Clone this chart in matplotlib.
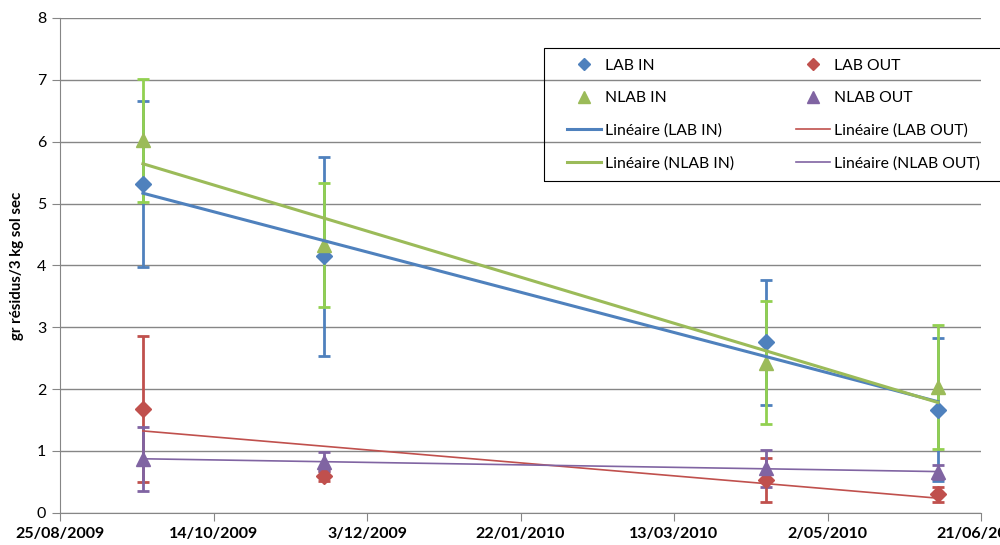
import numpy as np
import pandas as pd
import matplotlib
matplotlib.use('Agg')
import matplotlib.pyplot as plt
import matplotlib.dates as mdates
from matplotlib.patches import Rectangle

plt.rcParams['font.family'] = ['Lato', 'DejaVu Sans']

dates = pd.to_datetime(['2009-09-21', '2009-11-19', '2010-04-12', '2010-06-07'])

lab_in = [5.31, 4.15, 2.76, 1.67]
lab_in_err = [1.34, 1.61, 1.01, 1.15]
nlab_in = [6.02, 4.33, 2.43, 2.03]
nlab_in_err = [1.0, 1.0, 1.0, 1.0]
lab_out = [1.68, 0.60, 0.53, 0.30]
lab_out_err = [1.18, 0.08, 0.35, 0.12]
nlab_out = [0.87, 0.83, 0.72, 0.66]
nlab_out_err = [0.52, 0.15, 0.30, 0.12]

xtick_labels = ['25/08/2009', '14/10/2009', '3/12/2009', '22/01/2010',
                '13/03/2010', '2/05/2010', '21/06/2010']

fig = plt.figure(figsize=(10, 5.45), dpi=100)
ax = fig.add_axes([0.060, 0.059, 0.921, 0.908])

x = mdates.date2num(dates)

series = [
    ('LAB IN', lab_in, lab_in_err, '#4F81BD', '#4F81BD', 'D', 8, 2.2),
    ('LAB OUT', lab_out, lab_out_err, '#C0504D', '#C0504D', 'D', 8, 1.2),
    ('NLAB IN', nlab_in, nlab_in_err, '#9BBB59', '#92D050', '^', 10, 2.2),
    ('NLAB OUT', nlab_out, nlab_out_err, '#8064A2', '#8064A2', '^', 10, 1.2),
]

pts = {}
lines = {}
for name, y, err, col, ecol, mk, ms, lw in series:
    ax.errorbar(x, y, yerr=err, fmt='none', ecolor=ecol, elinewidth=2,
                capsize=4, capthick=2, zorder=3)
    pts[name] = ax.plot(x, y, linestyle='none', marker=mk, markersize=ms,
                        color=col, zorder=4, label=name)[0]
    # excel style linear trendline
    k, b = np.polyfit(x, y, 1)
    xs = np.array([x[0], x[-1]])
    lines[name] = ax.plot(xs, k * xs + b, color=col, linewidth=lw, zorder=5,
                          label='Linéaire (%s)' % name)[0]

ax.set_ylim(0, 8)
ax.set_yticks(range(0, 9))
start = mdates.date2num(pd.Timestamp('2009-08-25'))
ticks = start + np.arange(0, 301, 50)
ax.set_xlim(ticks[0], ticks[-1])
ax.set_xticks(ticks)
ax.set_xticklabels(xtick_labels, fontweight='bold', fontsize=11.5)
ax.tick_params(axis='y', labelsize=11.5, length=6, color='#868686', pad=4)
ax.tick_params(axis='x', length=6, color='#868686', pad=4)

ax.grid(axis='y', color='#868686', linewidth=1)
ax.set_axisbelow(True)
for s in ['top', 'right']:
    ax.spines[s].set_visible(False)
for s in ['left', 'bottom']:
    ax.spines[s].set_color('#868686')

ax.set_ylabel('gr résidus/3 kg sol sec', fontweight='bold', fontsize=10.8)
ax.yaxis.set_label_coords(-0.039, 0.5)

order = [pts['LAB IN'], pts['NLAB IN'], lines['LAB IN'], lines['NLAB IN'],
         pts['LAB OUT'], pts['NLAB OUT'], lines['LAB OUT'], lines['NLAB OUT']]
leg = fig.legend(handles=order, labels=[h.get_label() for h in order], ncol=2,
                 loc='upper left', bbox_to_anchor=(0.559, 1 - 51 / 545),
                 frameon=False, fontsize=11.3, borderaxespad=0,
                 handlelength=2.2, handletextpad=0.25, columnspacing=3.9,
                 labelspacing=1.17, borderpad=0.5, markerscale=0.8)
# legend box, runs past the right edge like the original
fig.patches.append(Rectangle((0.544, 1 - 181 / 545), 0.47, 133 / 545,
                             transform=fig.transFigure, fill=False,
                             edgecolor='black', linewidth=0.8))

fig.savefig('out.png', dpi=100)
